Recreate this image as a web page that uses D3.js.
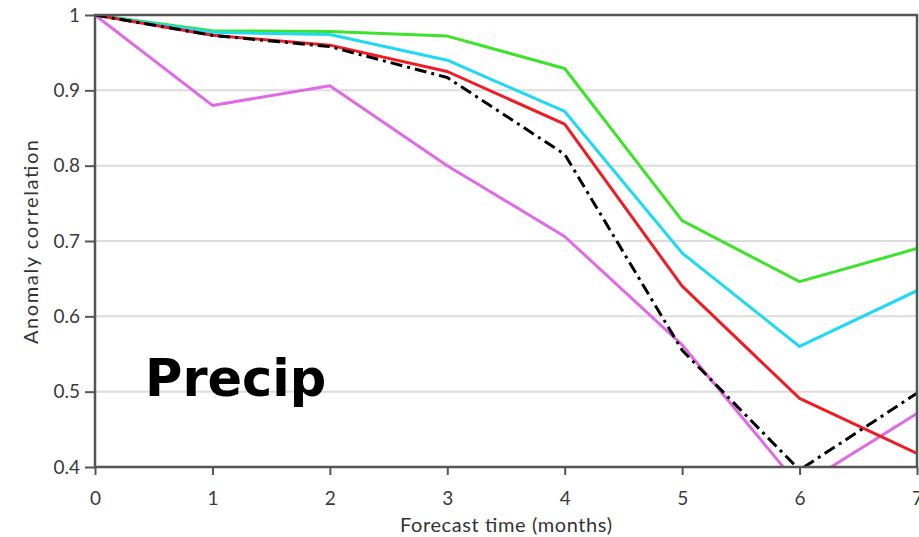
<!DOCTYPE html>
<html><head><meta charset="utf-8">
<script src="https://cdn.jsdelivr.net/npm/d3@7"></script>
<style>body{margin:0;background:#fff}svg{display:block}</style>
</head><body><svg id="c" width="919" height="537"></svg>
<script>
const months = [0,1,2,3,4,5,6,7];
const yTicks = [0.4,0.5,0.6,0.7,0.8,0.9,1];
const green   = [1,0.979,0.978,0.972,0.929,0.727,0.646,0.690];
const cyan    = [1,0.977,0.974,0.940,0.872,0.684,0.560,0.634];
const red     = [1,0.973,0.960,0.925,0.855,0.640,0.491,0.418];
const magenta = [1,0.880,0.906,0.800,0.706,0.562,0.374,0.471];
const black   = [1,0.973,0.958,0.917,0.815,0.555,0.396,0.498];
const seriesNames = ["magenta","green","cyan","red","black"];
const seriesColors = {green:"#3de22a",cyan:"#1fd9f2",red:"#ee1c25",magenta:"#e06ae6",black:"#000"};
const seriesData = {green,cyan,red,magenta,black};

const svg = d3.select("#c");
const L=95,R=917,T=15,B=467;
const x = d3.scaleLinear().domain([0,7]).range([L,R]);
const y = d3.scaleLinear().domain([0.4,1]).range([B,T]);
const font = "Lato, 'Open Sans', sans-serif";

svg.append("defs").append("clipPath").attr("id","clip")
  .append("rect").attr("x",L).attr("y",T).attr("width",R-L).attr("height",B-T);

// grid
svg.append("g").selectAll("line").data(yTicks.filter(d=>d>0.4&&d<1)).join("line")
  .attr("x1",L).attr("x2",R).attr("y1",d=>y(d)).attr("y2",d=>y(d))
  .attr("stroke","#dcdcdc").attr("stroke-width",2);

// lines
const line = d3.line().x((d,i)=>x(months[i])).y(d=>y(d));
const lg = svg.append("g").attr("clip-path","url(#clip)");
seriesNames.forEach(n=>{
  lg.append("path").datum(seriesData[n]).attr("d",line).attr("fill","none")
    .attr("stroke",seriesColors[n]).attr("stroke-width",3)
    .attr("stroke-linejoin","round")
    .attr("stroke-dasharray", n==="black" ? "12,5,3,5" : null);
});

// frame
svg.append("rect").attr("x",L).attr("y",T).attr("width",R-L).attr("height",B-T)
  .attr("fill","none").attr("stroke","#555").attr("stroke-width",2.5);

// axes
const yAxis = svg.append("g").attr("transform",`translate(${L},0)`)
  .call(d3.axisLeft(y).tickValues(yTicks).tickSize(10).tickPadding(5).tickFormat(d=>d===1?"1":d3.format(".1f")(d)));
const xAxis = svg.append("g").attr("transform",`translate(0,${B})`)
  .call(d3.axisBottom(x).tickValues(months).tickSize(8).tickPadding(17).tickFormat(d3.format("d")));
[yAxis,xAxis].forEach(a=>{
  a.select(".domain").remove();
  a.selectAll(".tick line").attr("stroke","#555").attr("stroke-width",2);
  a.selectAll(".tick text").attr("fill","#3a3a3a").style("font-family",font).style("font-size","19px");
});

svg.append("text").attr("x",506).attr("y",532).attr("text-anchor","middle")
  .style("font-family",font).style("font-size","20px").attr("fill","#333")
  .attr("textLength",212).attr("lengthAdjust","spacing")
  .text("Forecast time (months)");
svg.append("text").attr("transform","translate(38,242) rotate(-90)").attr("text-anchor","middle")
  .style("font-family",font).style("font-size","20px").attr("fill","#333")
  .attr("textLength",204).attr("lengthAdjust","spacing")
  .text("Anomaly correlation");

svg.append("text").attr("x",145).attr("y",396)
  .style("font-family","'DejaVu Sans', Verdana, sans-serif").style("font-weight","bold")
  .style("font-size","51px").attr("fill","#000")
  .text("Precip");
</script></body></html>
